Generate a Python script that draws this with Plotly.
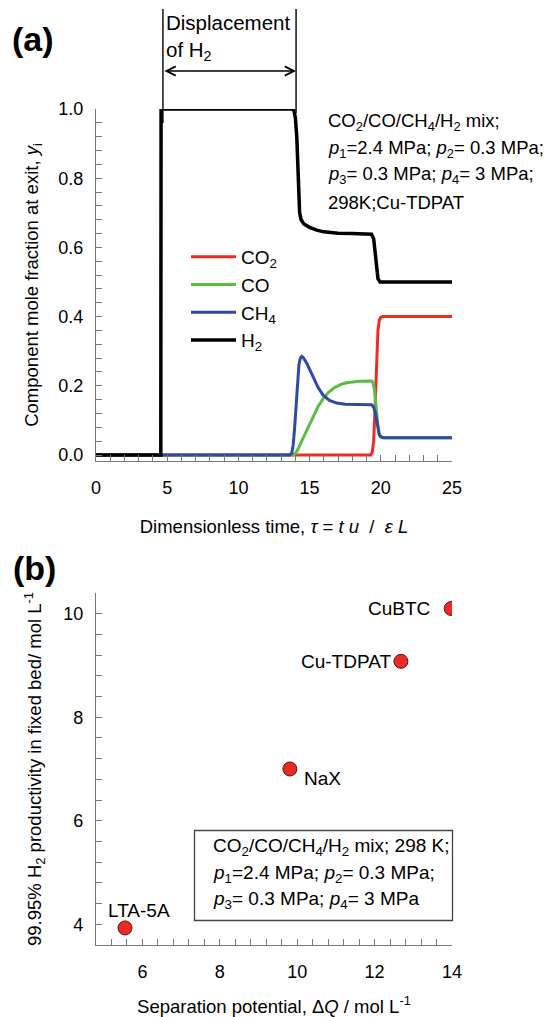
import plotly.graph_objects as go

# ---------------- data: panel (a) breakthrough curves ----------------
tau_co2 = [0, 19.3, 19.4, 19.5, 19.6, 19.7, 19.8, 19.9, 20.0, 20.15, 25]
y_co2 = [0, 0, 0.008, 0.04, 0.14, 0.27, 0.36, 0.39, 0.398, 0.4, 0.4]

tau_co = [0, 13.85, 14.0, 14.2, 14.5, 14.8, 15.25, 15.6, 15.95, 16.35, 16.75, 17.2,
          17.6, 18.5, 19.35, 19.45, 19.55, 19.65, 19.75, 19.85, 19.95, 20.1, 25]
y_co = [0, 0, 0.004, 0.018, 0.045, 0.07, 0.11, 0.14, 0.163, 0.182, 0.195, 0.204,
        0.209, 0.213, 0.214, 0.21, 0.19, 0.15, 0.1, 0.065, 0.053, 0.05, 0.05]

tau_ch4 = [0, 13.6, 13.75, 13.85, 13.95, 14.05, 14.15, 14.25, 14.35, 14.45, 14.55, 14.8,
           15.25, 15.6, 15.95, 16.4, 16.9, 17.5, 19.35, 19.5, 19.6, 19.7, 19.8, 19.9,
           20.05, 20.2, 25]
y_ch4 = [0, 0, 0.005, 0.03, 0.08, 0.15, 0.215, 0.26, 0.28, 0.285, 0.282, 0.265,
         0.226, 0.195, 0.173, 0.158, 0.15, 0.147, 0.145, 0.138, 0.125, 0.1, 0.075, 0.058,
         0.052, 0.05, 0.05]

tau_h2 = [0, 4.55, 4.57, 13.75, 13.9, 14.0, 14.1, 14.2, 14.3, 14.4, 14.6, 15.0, 15.5,
          16.0, 17.0, 18.0, 19.35, 19.5, 19.6, 19.7, 19.8, 19.95, 25]
y_h2 = [0, 0, 1.0, 1.0, 0.995, 0.975, 0.92, 0.8, 0.7, 0.68, 0.668, 0.658, 0.65,
        0.645, 0.641, 0.64, 0.638, 0.625, 0.59, 0.54, 0.51, 0.5, 0.5]

series_names = ["CO<sub>2</sub>", "CO", "CH<sub>4</sub>", "H<sub>2</sub>"]
series_colors = ["#ee2b25", "#5cbd45", "#3149a6", "#000000"]
series_widths = [3, 3, 3, 3.5]

# ---------------- data: panel (b) productivity vs separation potential ----------------
materials = ["LTA-5A", "NaX", "Cu-TDPAT", "CuBTC"]
sep_potential = [5.55, 9.81, 12.68, 13.98]
productivity = [3.93, 7.0, 9.08, 10.1]

# axis ranges
a_x_range = [0, 25]
a_y_range = [-0.0173, 1.0]
b_x_range = [4.8, 14]
b_y_range = [3.6, 10.4]

# ---------------- layout geometry ----------------
W, H = 544, 1017
ML, MR, MT, MB = 96, 92, 109, 72
PH = H - MT - MB
PW = W - ML - MR


def pp(py):
    """pixel row -> paper y"""
    return (H - MB - py) / PH


def px(xp):
    """pixel column -> paper x"""
    return (xp - ML) / PW


FONT = "Arial, Liberation Sans, Helvetica, sans-serif"
AXC = "#7a7a7a"
TF = 19    # annotation text size
TK = 18    # tick label size
TT = 18.5  # axis title size

fig = go.Figure()

taus = [tau_co2, tau_co, tau_ch4, tau_h2]
ys = [y_co2, y_co, y_ch4, y_h2]
for name, t, y, c, w in zip(series_names, taus, ys, series_colors, series_widths):
    fig.add_trace(go.Scatter(x=t, y=y, mode="lines", name=name,
                             line=dict(color=c, width=w), xaxis="x", yaxis="y",
                             legendgroup=name))

fig.add_trace(go.Scatter(x=sep_potential, y=productivity, mode="markers",
                         marker=dict(size=14, color="#ec2a25",
                                     line=dict(color="#5a1510", width=1)),
                         xaxis="x2", yaxis="y2", showlegend=False))


def axis(rng, dtick, minor_dtick, domain, anchor, fmt=None, standoff=8, title=None,
         title_standoff=20):
    d = dict(range=rng, domain=domain, anchor=anchor, showline=True, linecolor=AXC,
             linewidth=1.4, ticks="inside", ticklen=6, tickwidth=1.2, tickcolor=AXC,
             showgrid=False, zeroline=False, dtick=dtick, tick0=0, automargin=False,
             tickfont=dict(size=TK, color="black", family=FONT),
             ticklabelstandoff=standoff,
             minor=dict(ticks="inside", ticklen=6, tickwidth=1.2, tickcolor=AXC,
                        dtick=minor_dtick, tick0=0, showgrid=False))
    if fmt:
        d["tickformat"] = fmt
    if title:
        d["title"] = dict(text=title, font=dict(size=TT, color="black", family=FONT),
                          standoff=title_standoff)
    return d


dom_a = [pp(461), 1.0]
dom_b = [0.0, pp(593)]

fig.update_layout(
    width=W, height=H,
    margin=dict(l=ML, r=MR, t=MT, b=MB, autoexpand=False),
    paper_bgcolor="white", plot_bgcolor="white",
    font=dict(family=FONT, size=TF, color="black"),
    xaxis=axis(a_x_range, 5, 1, [0, 1], "y", standoff=10,
               title="Dimensionless time, <i>τ</i> = <i>t u</i>  /  <i>ε L</i>",
               title_standoff=23),
    yaxis=axis(a_y_range, 0.2, 0.04, dom_a, "x", fmt=".1f", standoff=8,
               title="Component mole fraction at exit, <i>y</i><sub>i</sub>",
               title_standoff=14),
    xaxis2=axis(b_x_range, 2, 0.4, [0, 1], "y2", standoff=10,
                title="Separation potential, Δ<i>Q</i> / mol L<sup>-1</sup>",
                title_standoff=24),
    yaxis2=axis(b_y_range, 2, 0.4, dom_b, "x2", standoff=8,
                title="99.95% H<sub>2</sub> productivity in fixed bed/ mol L<sup>-1</sup>",
                title_standoff=16),
    showlegend=True,
    legend=dict(x=px(186), y=pp(238), xanchor="left", yanchor="top",
                bgcolor="rgba(0,0,0,0)", font=dict(size=TF, family=FONT),
                tracegroupgap=0, itemwidth=45),
)

ann = []
# panel labels
ann.append(dict(text="<b>(a)</b>", x=px(10), y=pp(39),
                xref="paper", yref="paper", xanchor="left", yanchor="middle",
                showarrow=False, font=dict(size=34, family=FONT)))
ann.append(dict(text="<b>(b)</b>", x=px(11), y=pp(568),
                xref="paper", yref="paper", xanchor="left", yanchor="middle",
                showarrow=False, font=dict(size=34, family=FONT)))

# displacement of H2 marker
disp_start, disp_end = 4.7, 14.05
ann.append(dict(text="Displacement", x=disp_start, y=pp(23), xref="x", yref="paper",
                xanchor="left", yanchor="middle", xshift=1, showarrow=False,
                font=dict(size=20.5, family=FONT)))
ann.append(dict(text="of H<sub>2</sub>", x=disp_start, y=pp(51), xref="x", yref="paper",
                xanchor="left", yanchor="middle", xshift=1, showarrow=False,
                font=dict(size=20.5, family=FONT)))
ann.append(dict(text="", x=disp_end, y=pp(71), xref="x", yref="paper",
                ax=disp_start, ay=0, axref="x", ayref="pixel",
                showarrow=True, arrowhead=5, startarrowhead=5, arrowside="end+start",
                arrowsize=1.3, startarrowsize=1.3, arrowwidth=1.4, arrowcolor="black",
                standoff=0, startstandoff=0))

shapes = [
    dict(type="line", xref="x", yref="paper", x0=disp_start, x1=disp_start,
         y0=pp(9), y1=pp(123), line=dict(color="black", width=1.4)),
    dict(type="line", xref="x", yref="paper", x0=disp_end, x1=disp_end,
         y0=pp(9), y1=pp(113), line=dict(color="black", width=1.4)),
]

# condition text panel (a)
cond_a = ["CO<sub>2</sub>/CO/CH<sub>4</sub>/H<sub>2</sub> mix;",
          "<i>p</i><sub>1</sub>=2.4 MPa; <i>p</i><sub>2</sub>= 0.3 MPa;",
          "<i>p</i><sub>3</sub>= 0.3 MPa; <i>p</i><sub>4</sub>= 3 MPa;",
          "298K;Cu-TDPAT"]
for i, line in enumerate(cond_a):
    ann.append(dict(text=line, x=px(326), y=pp(122 + 26.7 * i),
                    xref="paper", yref="paper", xanchor="left", yanchor="middle",
                    showarrow=False, font=dict(size=18.5, family=FONT)))

# condition box panel (b)
cond_b = ["CO<sub>2</sub>/CO/CH<sub>4</sub>/H<sub>2</sub> mix; 298 K;",
          "<i>p</i><sub>1</sub>=2.4 MPa; <i>p</i><sub>2</sub>= 0.3 MPa;",
          "<i>p</i><sub>3</sub>= 0.3 MPa; <i>p</i><sub>4</sub>= 3 MPa"]
for i, line in enumerate(cond_b):
    ann.append(dict(text=line, x=px(211), y=pp(847 + 26.7 * i),
                    xref="paper", yref="paper", xanchor="left", yanchor="middle",
                    showarrow=False, font=dict(size=TF, family=FONT)))
shapes.append(dict(type="rect", xref="paper", yref="paper",
                   x0=px(194.5), x1=px(452.5), y0=pp(830.5), y1=pp(920.5),
                   line=dict(color="#444444", width=1.3)))

# point labels panel (b)
label_anchor = ["center", "left", "right", "right"]
label_dx = [14, 12, -8, -19]
label_dy = [17, -9, 0, 0]
for m, xv, yv, xa, dx, dy in zip(materials, sep_potential, productivity, label_anchor,
                                  label_dx, label_dy):
    ann.append(dict(text=m, x=xv, y=yv, xref="x2", yref="y2", xanchor=xa,
                    yanchor="middle", xshift=dx, yshift=dy, showarrow=False,
                    font=dict(size=TF, family=FONT)))

fig.update_layout(annotations=ann, shapes=shapes)
fig.write_html("out.html", config={"displayModeBar": False},
               post_script="document.body.style.margin='0';document.body.style.padding='0';")
